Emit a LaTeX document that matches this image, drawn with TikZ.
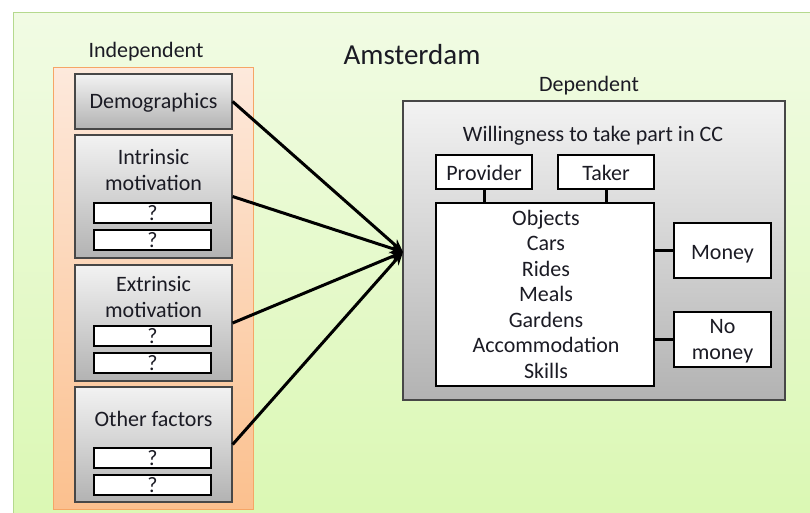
\documentclass[tikz,border=0pt]{standalone}
\usepackage{fontspec}
\setmainfont{Carlito}
\usetikzlibrary{arrows.meta,shadows}
\definecolor{txt}{HTML}{1B1B24}
\definecolor{bgtop}{HTML}{F1FBE4}
\definecolor{bgbot}{HTML}{DAF8B2}
\definecolor{bgline}{HTML}{B5D98E}
\definecolor{ortop}{HTML}{FDE9DC}
\definecolor{orbot}{HTML}{FBC08E}
\definecolor{orline}{HTML}{F6A566}
\begin{document}
\begin{tikzpicture}[x=1pt,y=-1pt,
  every node/.style={text=txt},
  lbl/.style={font=\fontsize{22}{25.5}\selectfont, anchor=base, inner sep=0pt, align=center},
  graybox/.style={draw=black!72, line width=1.2pt, top color=black!5, bottom color=black!30,
    inner sep=0pt, drop shadow={opacity=0.25, shadow xshift=1.2pt, shadow yshift=-1.2pt}},
  whitebox/.style={draw=black, line width=2pt, fill=white, inner sep=0pt},
  qbox/.style={whitebox, minimum width=117pt, minimum height=20pt},
  link/.style={line width=3pt, black},
  feed/.style={line width=3pt, black, -{Stealth[length=13pt,width=11pt]}}
]
\useasboundingbox (0,0) rectangle (810,513);
\fill[white] (0,0) rectangle (810,513);
\clip (0,0) rectangle (810,513);

% background panel
\draw[draw=bgline, line width=1pt, top color=bgtop, bottom color=bgbot] (13,13) rectangle (830,530);
\node[lbl, font=\fontsize{29}{32}\selectfont] (title) at (412,65) {Amsterdam};

% independent variables (multi-line labels are placed by their last baseline)
\node[lbl] (indlbl) at (146,58) {Independent};
\draw[draw=orline, line width=1pt, top color=ortop, bottom color=orbot] (53,68) rectangle (253,509);

\node[graybox, minimum width=157pt, minimum height=55pt] (demo) at (153.5,101.5) {};
\node[lbl] (demotxt) at (153.5,109) {Demographics};

\node[graybox, minimum width=157pt, minimum height=123pt] (intr) at (153.5,196.5) {};
\node[lbl] (intrtxt) at (153.5,190) {Intrinsic\\motivation};
\node[qbox] (iq1) at (152.5,212.5) {};
\node[lbl] at (152.5,220) {?};
\node[qbox] (iq2) at (152.5,239.5) {};
\node[lbl] at (152.5,247) {?};

\node[graybox, minimum width=157pt, minimum height=116pt] (extr) at (153.5,323) {};
\node[lbl] (extrtxt) at (153.5,317) {Extrinsic\\motivation};
\node[qbox] (eq1) at (152.5,335.5) {};
\node[lbl] at (152.5,343) {?};
\node[qbox] (eq2) at (152.5,362.5) {};
\node[lbl] at (152.5,370) {?};

\node[graybox, minimum width=157pt, minimum height=115pt] (other) at (153.5,444.5) {};
\node[lbl] (othertxt) at (153.5,426) {Other factors};
\node[qbox] (oq1) at (152.5,458) {};
\node[lbl] at (152.5,465.5) {?};
\node[qbox] (oq2) at (152.5,485) {};
\node[lbl] at (152.5,492.5) {?};

% dependent variable
\node[lbl] (deplbl) at (589,92) {Dependent};
\node[graybox, minimum width=382pt, minimum height=299pt] (dep) at (594,250.5) {};
\node[lbl] (willing) at (593,142) {Willingness to take part in CC};

\node[whitebox, minimum width=96pt, minimum height=34pt] (prov) at (484,172) {};
\node[lbl] at (484,180) {Provider};
\node[whitebox, minimum width=96pt, minimum height=34pt] (taker) at (606,172) {};
\node[lbl] at (606,180) {Taker};

\node[whitebox, minimum width=218pt, minimum height=183pt] (items) at (545,294.5) {};
\node[lbl] (itemtxt) at (546,378) {Objects\\Cars\\Rides\\Meals\\Gardens\\Accommodation\\Skills};

\node[whitebox, minimum width=97pt, minimum height=55pt] (money) at (722.5,250.5) {};
\node[lbl] at (722.5,259) {Money};
\node[whitebox, minimum width=97pt, minimum height=55pt] (nomoney) at (722.5,339.5) {};
\node[lbl] at (722.5,359) {No\\money};

% links inside the dependent block
\draw[link] (prov.south) -- (items.north -| prov.south);
\draw[link] (taker.south) -- (items.north -| taker.south);
\draw[link] (items.east |- money.west) -- (money.west);
\draw[link] (items.east |- nomoney.west) -- (nomoney.west);

% arrows from the independent factors
\coordinate (hub) at (403,252);
\draw[feed] (demo.east) -- (hub);
\draw[feed] (intr.east) -- (hub);
\draw[feed] (extr.east) -- (hub);
\draw[feed] (other.east) -- (hub);
\end{tikzpicture}
\end{document}
